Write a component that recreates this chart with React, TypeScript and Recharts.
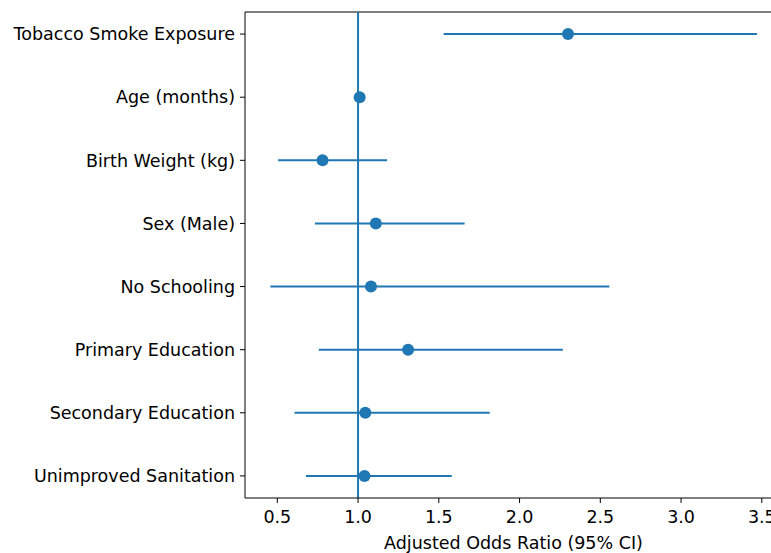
import React from "react";
import {
  ComposedChart,
  ErrorBar,
  ReferenceLine,
  Scatter,
  XAxis,
  YAxis,
} from "recharts";

const labels = [
  "Tobacco Smoke Exposure",
  "Age (months)",
  "Birth Weight (kg)",
  "Sex (Male)",
  "No Schooling",
  "Primary Education",
  "Secondary Education",
  "Unimproved Sanitation",
];
const oddsRatio = [2.3, 1.01, 0.78, 1.11, 1.08, 1.31, 1.045, 1.04];
const ciLow = [1.53, 1.0, 0.505, 0.733, 0.457, 0.757, 0.607, 0.677];
const ciHigh = [3.47, 1.02, 1.18, 1.66, 2.556, 2.268, 1.815, 1.58];
const xTicks = [0.5, 1.0, 1.5, 2.0, 2.5, 3.0, 3.5];

const BLUE = "#1f77b4";
const FONT = "DejaVu Sans, sans-serif";
const FS = 17.5;

const rows = labels.map((name, i) => ({
  name,
  y: i,
  or: oddsRatio[i],
  err: [oddsRatio[i] - ciLow[i], ciHigh[i] - oddsRatio[i]],
}));

const Dot = (props: any) => (
  <circle cx={props.cx} cy={props.cy} r={6} fill={BLUE} />
);

export default function App() {
  return (
    <div
      style={{
        position: "absolute",
        left: 0,
        top: 0,
        width: 771,
        height: 553,
        overflow: "hidden",
        background: "#fff",
      }}
    >
      <ComposedChart
        width={800}
        height={553}
        data={rows}
        margin={{ top: 12, right: 18, bottom: 0, left: 0 }}
        style={{ fontFamily: FONT }}
      >
        <XAxis
          type="number"
          dataKey="or"
          domain={[0.3, 3.625]}
          allowDataOverflow
          ticks={xTicks}
          tickFormatter={(v: number) => v.toFixed(1)}
          height={55}
          tickSize={5}
          tickMargin={8}
          stroke="#000"
          tick={{ fontSize: FS, fill: "#000" }}
          label={{
            value: "Adjusted Odds Ratio (95% CI)",
            position: "insideBottom",
            offset: 4,
            style: { fontSize: FS, fill: "#000", fontFamily: FONT },
          }}
        />
        <YAxis
          type="number"
          dataKey="y"
          domain={[-0.35, 7.35]}
          allowDataOverflow
          reversed
          ticks={[0, 1, 2, 3, 4, 5, 6, 7]}
          interval={0}
          tickFormatter={(v: number) => labels[v]}
          width={245}
          tickSize={5}
          tickMargin={5}
          stroke="#000"
          tick={{ fontSize: FS, fill: "#000" }}
        />
        <ReferenceLine y={-0.35} stroke="#000" strokeWidth={1} />
        <ReferenceLine x={1} stroke={BLUE} strokeWidth={2} />
        <Scatter
          dataKey="or"
          fill={BLUE}
          shape={Dot}
          isAnimationActive={false}
        >
          <ErrorBar
            dataKey="err"
            direction="x"
            width={0}
            stroke={BLUE}
            strokeWidth={2}
            isAnimationActive={false}
          />
        </Scatter>
      </ComposedChart>
    </div>
  );
}
